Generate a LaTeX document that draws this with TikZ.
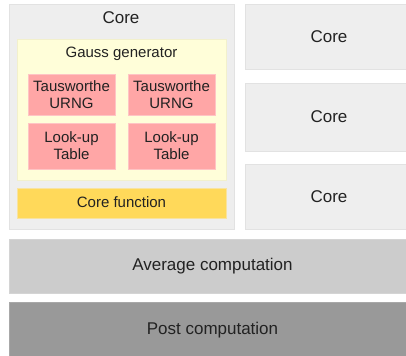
\documentclass[tikz,border=0pt]{standalone}
\usepackage{fontspec}
\setmainfont{Liberation Sans}
\definecolor{coregray}{HTML}{EEEEEE}
\definecolor{coreline}{HTML}{E2E2E2}
\definecolor{gaussfill}{HTML}{FFFED9}
\definecolor{gaussline}{HTML}{F2F0CC}
\definecolor{pinkfill}{HTML}{FFA6A6}
\definecolor{pinkline}{HTML}{FFC4C4}
\definecolor{funcfill}{HTML}{FFD95A}
\definecolor{funcline}{HTML}{F8E3A0}
\definecolor{avgfill}{HTML}{CCCCCC}
\definecolor{postfill}{HTML}{999999}
\definecolor{txt}{HTML}{222222}
\tikzset{
  box/.style={anchor=north west, inner sep=0pt, outer sep=0pt, text=txt, line width=0.6pt, align=center},
  big/.style={font=\fontsize{12.75}{15}\selectfont},
  small/.style={font=\fontsize{11.25}{12.8}\selectfont},
}
\begin{document}
\begin{tikzpicture}[x=0.75pt,y=-0.75pt]
\clip (0,0) rectangle (406,356);
\fill[white] (0,0) rectangle (406,356);
% main core
\node[box, draw=coreline, fill=coregray, minimum width=225*0.75pt, minimum height=225*0.75pt] (core) at (9,4) {};
\node[big, text=txt, inner sep=0pt] (coretitle) at (121,18) {Core};
\node[box, draw=gaussline, fill=gaussfill, minimum width=209*0.75pt, minimum height=141*0.75pt] (gauss) at (17,39) {};
\node[small, text=txt, inner sep=0pt] (gausstitle) at (121.5,53.5) {Gauss generator};
\node[box, small, draw=pinkline, fill=pinkfill, minimum width=87*0.75pt, minimum height=41*0.75pt] (t1) at (28,74) {Tausworthe\\URNG};
\node[box, small, draw=pinkline, fill=pinkfill, minimum width=87*0.75pt, minimum height=41*0.75pt] (t2) at (128,74) {Tausworthe\\URNG};
\node[box, small, draw=pinkline, fill=pinkfill, minimum width=87*0.75pt, minimum height=46*0.75pt] (l1) at (28,123) {Look-up\\Table};
\node[box, small, draw=pinkline, fill=pinkfill, minimum width=87*0.75pt, minimum height=46*0.75pt] (l2) at (128,123) {Look-up\\Table};
\node[box, small, draw=funcline, fill=funcfill, minimum width=209*0.75pt, minimum height=30*0.75pt] (func) at (17,188) {\raisebox{2pt}{Core function}};
% other cores
\node[box, big, draw=coreline, fill=coregray, minimum width=168*0.75pt, minimum height=65*0.75pt] (c2) at (245,4) {Core};
\node[box, big, draw=coreline, fill=coregray, minimum width=168*0.75pt, minimum height=68*0.75pt] (c3) at (245,83) {Core};
\node[box, big, draw=coreline, fill=coregray, minimum width=168*0.75pt, minimum height=65*0.75pt] (c4) at (245,164) {Core};
% bottom
\node[box, big, draw=avgfill!85!white, fill=avgfill, minimum width=407*0.75pt, minimum height=54*0.75pt] (avg) at (9,239) {Average computation};
\node[box, big, draw=postfill!85!white, fill=postfill, minimum width=407*0.75pt, minimum height=56*0.75pt] (post) at (9,302) {Post computation};
\end{tikzpicture}
\end{document}
